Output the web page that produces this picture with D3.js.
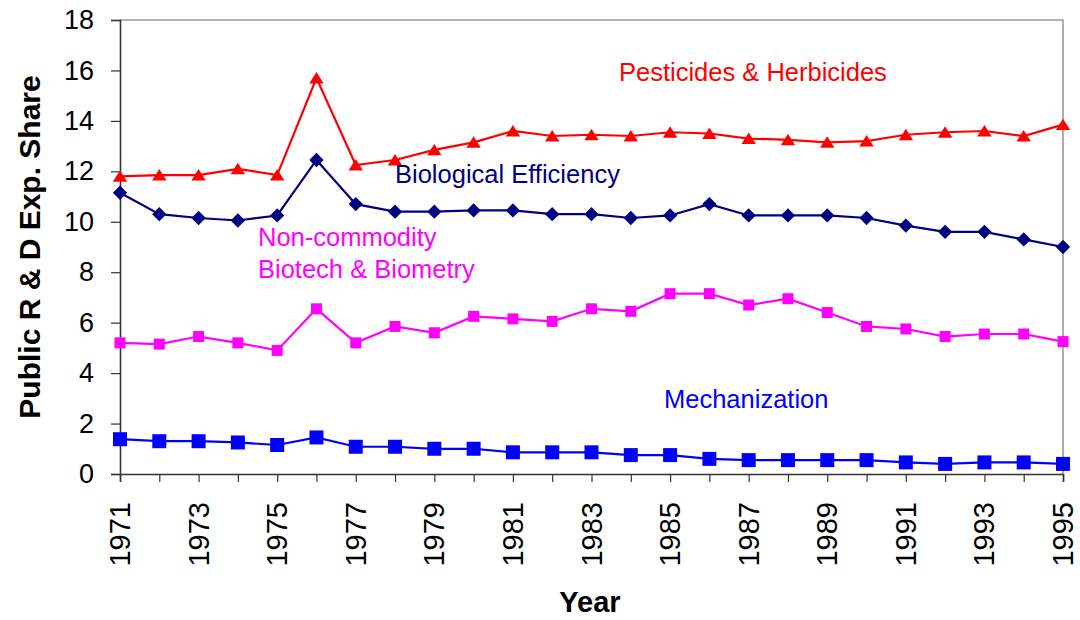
<!DOCTYPE html>
<html>
<head>
<meta charset="utf-8">
<script src="https://cdn.jsdelivr.net/npm/d3@7"></script>
<style>
  body { margin: 0; background: #fff; }
  text { font-family: Arial, "Liberation Sans", sans-serif; }
</style>
</head>
<body>
<div id="chart"></div>
<script>
// data
const years = d3.range(1971, 1996);
const pesticides = [11.8, 11.85, 11.85, 12.1, 11.85, 15.7, 12.25, 12.45, 12.85, 13.15, 13.6, 13.4, 13.45,
                    13.4, 13.55, 13.5, 13.3, 13.25, 13.15, 13.2, 13.45, 13.55, 13.6, 13.4, 13.85];
const biological = [11.15, 10.3, 10.15, 10.05, 10.25, 12.45, 10.7, 10.4, 10.4, 10.45, 10.45, 10.3, 10.3,
                    10.15, 10.25, 10.7, 10.25, 10.25, 10.25, 10.15, 9.85, 9.6, 9.6, 9.3, 9.0];
const noncommodity = [5.2, 5.15, 5.45, 5.2, 4.9, 6.55, 5.2, 5.85, 5.6, 6.25, 6.15, 6.05, 6.55,
                      6.45, 7.15, 7.15, 6.7, 6.95, 6.4, 5.85, 5.75, 5.45, 5.55, 5.55, 5.25];
const mechanization = [1.38, 1.3, 1.3, 1.25, 1.15, 1.45, 1.08, 1.08, 1.0, 1.0, 0.86, 0.86, 0.86,
                       0.75, 0.75, 0.6, 0.55, 0.55, 0.55, 0.55, 0.46, 0.4, 0.46, 0.46, 0.4];
const yTicks = d3.range(0, 19, 2);
const xLabelYears = d3.range(1971, 1996, 2);

const W = 1080, H = 620;
const plotL = 120, plotR = 1063, plotT = 20, plotB = 474;

const svg = d3.select("#chart").append("svg")
  .attr("width", W).attr("height", H);

const x = d3.scaleLinear().domain([1971, 1995]).range([plotL, plotR]);
const y = d3.scaleLinear().domain([0, 18]).range([plotB, plotT]);

// plot area border (top + right)
svg.append("path")
  .attr("d", `M${plotL},${plotT}H${plotR}V${plotB}`)
  .attr("fill", "none").attr("stroke", "#999").attr("stroke-width", 1.6);

// y axis
const yAxis = svg.append("g")
  .attr("transform", `translate(${plotL},0)`)
  .call(d3.axisLeft(y).tickValues(yTicks).tickSize(9).tickPadding(17).tickFormat(d3.format("d")));
yAxis.select(".domain").attr("stroke", "#333").attr("stroke-width", 1.6);
yAxis.selectAll(".tick line").attr("stroke", "#333").attr("stroke-width", 1.2);
yAxis.selectAll("text").attr("font-size", 27).attr("fill", "#000")
  .attr("font-family", "Arial, 'Liberation Sans', sans-serif");

// x axis, tick every year, label every other
const xAxis = svg.append("g")
  .attr("transform", `translate(0,${plotB})`)
  .call(d3.axisBottom(x).tickValues(years).tickSize(8).tickFormat(""));
xAxis.select(".domain").attr("stroke", "#333").attr("stroke-width", 1.6);
xAxis.selectAll(".tick line").attr("stroke", "#333").attr("stroke-width", 1.2);

svg.append("g").selectAll("text")
  .data(xLabelYears)
  .enter().append("text")
    .attr("transform", d => `translate(${x(d) + 10},${plotB + 28}) rotate(-90)`)
    .attr("text-anchor", "end")
    .attr("font-size", 29)
    .text(d => d);

// axis titles
svg.append("text")
  .attr("transform", `translate(40,${(plotT + plotB) / 2}) rotate(-90)`)
  .attr("text-anchor", "middle")
  .attr("font-size", 30).attr("font-weight", "bold")
  .text("Public R & D Exp. Share");

svg.append("text")
  .attr("x", 590).attr("y", 612)
  .attr("text-anchor", "middle")
  .attr("font-size", 29).attr("font-weight", "bold")
  .text("Year");

// marker shapes
const shapes = {
  triangle: s => `M0,${-s * 0.5}L${s * 0.6},${s * 0.45}L${-s * 0.6},${s * 0.45}Z`,
  diamond: s => `M0,${-s * 0.55}L${s * 0.55},0L0,${s * 0.55}L${-s * 0.55},0Z`,
  square: s => `M${-s / 2},${-s / 2}h${s}v${s}h${-s}Z`
};

const series = [
  { name: "pest", values: pesticides, color: "#ff0000", shape: "triangle", size: 12 },
  { name: "bio", values: biological, color: "#000080", shape: "diamond", size: 13 },
  { name: "noncom", values: noncommodity, color: "#ff00ff", shape: "square", size: 11 },
  { name: "mech", values: mechanization, color: "#0000ff", shape: "square", size: 14 }
];

const line = d3.line()
  .x((d, i) => x(years[i]))
  .y(d => y(d));

series.forEach(s => {
  svg.append("path")
    .datum(s.values)
    .attr("d", line)
    .attr("fill", "none")
    .attr("stroke", s.color)
    .attr("stroke-width", 2.2);

  svg.append("g").selectAll("path")
    .data(s.values)
    .enter().append("path")
      .attr("transform", (d, i) => `translate(${x(years[i])},${y(d)})`)
      .attr("d", shapes[s.shape](s.size))
      .attr("fill", s.color);
});

// labels
const labels = [
  { text: ["Pesticides & Herbicides"], x: 619, y: 81, color: "#ff0000" },
  { text: ["Biological Efficiency"], x: 395, y: 183, color: "#000080" },
  { text: ["Non-commodity", "Biotech & Biometry"], x: 258, y: 246, color: "#ff00ff" },
  { text: ["Mechanization"], x: 664, y: 408, color: "#0000ff" }
];
labels.forEach(l => {
  const t = svg.append("text")
    .attr("x", l.x).attr("y", l.y)
    .attr("font-size", 25.5)
    .attr("fill", l.color);
  l.text.forEach((s, i) => {
    t.append("tspan").attr("x", l.x).attr("dy", i === 0 ? 0 : 31.5).text(s);
  });
});
</script>
</body>
</html>
